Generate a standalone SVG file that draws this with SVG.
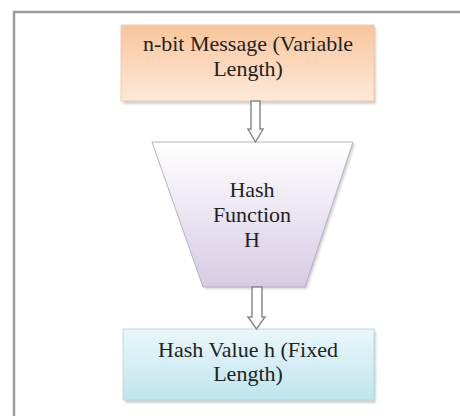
<svg xmlns="http://www.w3.org/2000/svg" width="460" height="416" viewBox="0 0 460 416">
<style>
.t{font-family:'Liberation Serif','Times New Roman',Times,serif;font-size:22px;fill:#222;text-anchor:middle}
.arrow{fill:#fff;stroke:#8a8a8a;stroke-width:1.5;stroke-linejoin:miter}
.shadow{fill:#9a9a9a;opacity:0.45}
</style>
<defs>
<linearGradient id="gOrange" x1="0" y1="0" x2="0" y2="1">
<stop offset="0" stop-color="#f8c59b"/>
<stop offset="1" stop-color="#fde9da"/>
</linearGradient>
<linearGradient id="gPurple" x1="0" y1="0" x2="0" y2="1">
<stop offset="0" stop-color="#ffffff"/>
<stop offset="1" stop-color="#d6cbe4"/>
</linearGradient>
<linearGradient id="gCyan" x1="0" y1="0" x2="0" y2="1">
<stop offset="0" stop-color="#e9f7fa"/>
<stop offset="1" stop-color="#bfe5ee"/>
</linearGradient>
<filter id="blur" x="-10%" y="-10%" width="120%" height="130%"><feGaussianBlur stdDeviation="1.2"/></filter>
</defs>
<rect width="460" height="416" fill="#fff"/>
<g id="frame">
<path d="M14 416 V12 H460" fill="none" stroke="#9c9c9c" stroke-width="2.5"/>
</g>
<g id="message">
<rect class="shadow" x="123" y="27" width="253" height="77" filter="url(#blur)"/>
<rect x="121" y="25" width="253" height="76" fill="url(#gOrange)" stroke="#f5c9a6" stroke-width="1"/>
<text class="t" x="248" y="51">n-bit Message (Variable</text>
<text class="t" x="248" y="76">Length)</text>
</g>
<g id="hash-function">
<polygon class="shadow" points="154,144 355,144 307,289 205,289" filter="url(#blur)"/>
<polygon points="152,142 353,142 305,287 203,287" fill="url(#gPurple)" stroke="#b9b2c4" stroke-width="1"/>
<text class="t" x="252" y="197">Hash</text>
<text class="t" x="252" y="222">Function</text>
<text class="t" x="252" y="247">H</text>
</g>
<g id="hash-value">
<rect class="shadow" x="125" y="331" width="251" height="72" filter="url(#blur)"/>
<rect x="123" y="329" width="251" height="71" fill="url(#gCyan)" stroke="#b5dbe4" stroke-width="1"/>
<text class="t" x="248" y="357" font-size="23">Hash Value h (Fixed</text>
<text class="t" x="248" y="381" font-size="23">Length)</text>
</g>
<g id="connectors">
<polygon class="arrow" points="251,101 260,101 260,129 263,129 255.5,142 248,129 251,129"/>
<polygon class="arrow" points="252,287 262,287 262,317 265,317 256.5,329 248,317 252,317"/>
</g>
</svg>
